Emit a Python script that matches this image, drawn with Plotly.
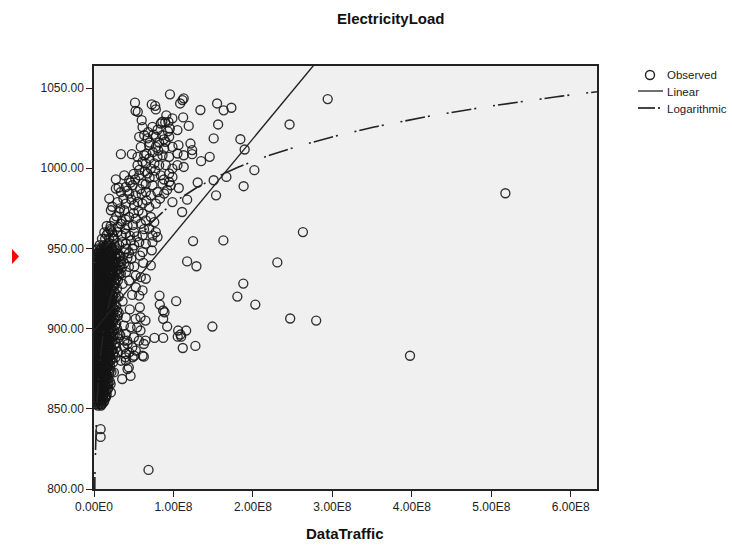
import numpy as np
import plotly.graph_objects as go

# ---------------------------------------------------------------
# Observed values: DataTraffic (in units of 1E8) and ElectricityLoad
# ---------------------------------------------------------------

# isolated high-traffic observations
sparse_traffic = [5.177, 3.977, 2.941, 2.796, 2.469, 2.629, 2.461, 2.307, 2.030, 1.879,
                  1.804, 1.628, 1.490, 1.896, 2.018, 1.883, 1.842]
sparse_load = [984.4, 883.1, 1043.1, 905.0, 906.3, 960.2, 1027.3, 941.3, 915.0, 928.1,
               920.0, 955.0, 901.3, 1011.7, 998.8, 988.8, 1018.1]

# upper band (high load, moderate traffic)
upper_traffic = [
    1.129, 1.113, 1.084, 0.956, 1.339, 1.549, 1.632, 1.729, 1.122, 1.192, 1.562, 1.506,
    1.214, 1.235, 1.235, 1.129, 1.129, 1.348, 1.456, 1.305, 1.506, 1.666, 1.536, 1.172,
    1.109, 1.067, 1.247,
    0.516, 0.523, 0.551, 0.727, 0.770, 0.778,
    0.987, 0.937, 0.896, 0.840, 0.611, 0.736, 1.050, 0.954,
    0.569, 0.632, 0.673, 0.778, 0.862, 0.946,
    0.589, 0.695, 0.778, 0.883, 0.987, 1.063,
    0.338, 0.476, 0.548, 0.632, 0.695, 0.799, 0.862, 0.946, 1.050,
    0.548, 0.652, 0.715, 0.820, 0.903, 0.987, 1.050,
    0.569, 0.673, 0.758, 0.840, 0.946, 0.987,
    0.275, 0.381, 0.443, 0.485, 0.611, 0.736, 0.862, 0.946, 0.966,
    0.275, 0.338, 0.401, 0.443, 0.526, 0.652, 0.715, 0.799, 0.883,
    0.987, 0.192, 0.296, 0.401, 0.506, 0.611, 0.695, 0.778,
    0.212, 0.318, 0.381, 0.443, 0.526, 0.611, 0.715, 0.758, 0.589, 0.652,
    0.255, 0.338, 0.422,
    0.212, 0.296, 0.401, 0.506, 0.611, 0.695, 0.778, 0.799, 0.736,
    0.255, 0.359, 0.464, 0.569, 0.652, 0.506, 0.736,
    0.149, 0.234, 0.318, 0.401,
    0.60, 0.68, 0.82, 0.90, 0.74, 0.64, 0.77, 0.88, 0.50, 0.58, 0.83, 0.92, 0.47, 0.56,
    0.66, 0.40, 0.49, 0.63, 0.30, 0.35, 0.54, 0.44, 0.27, 0.19, 0.16, 0.58, 0.62, 0.47,
    0.25, 0.30,
    0.20, 0.24, 0.28, 0.33, 0.37, 0.42, 0.46, 0.52, 0.57, 0.61, 0.66, 0.70, 0.75, 0.80,
    0.86, 0.91, 0.35, 0.39, 0.45, 0.50, 0.55, 0.60, 0.65, 0.70, 0.76, 0.81, 0.88, 0.93,
    0.23, 0.31,
]
upper_load = [
    1043.6, 1042.5, 1040.4, 1046.1, 1036.3, 1040.4, 1036.1, 1037.7, 1031.7, 1026.4, 1027.3, 1018.6,
    1015.4, 1011.3, 1008.8, 1008.1, 1000.8, 1004.4, 1007.1, 991.1, 992.5, 994.6, 983.1, 980.4,
    972.7, 987.7, 954.6,
    1040.9, 1035.8, 1035.2, 1039.8, 1038.9, 1036.7,
    1031.1, 1028.9, 1028.6, 1027.9, 1025.6, 1025.8, 1023.8, 1024.8,
    1019.6, 1020.6, 1018.6, 1019.6, 1020.6, 1019.6,
    1013.3, 1014.4, 1013.3, 1012.3, 1013.3, 1014.4,
    1008.8, 1008.8, 1007.1, 1008.1, 1006.1, 1007.1, 1008.1, 1007.1, 1009.2,
    1001.9, 1002.9, 999.8, 1001.9, 1001.9, 999.8, 1001.9,
    995.6, 996.7, 994.6, 995.6, 996.7, 994.6,
    993.1, 995.6, 992.5, 989.4, 990.4, 989.4, 990.4, 991.4, 989.4,
    987.3, 985.2, 988.3, 984.2, 983.1, 985.2, 983.1, 985.2, 984.2,
    978.9, 981.1, 978.9, 977.9, 976.9, 977.9, 975.8, 977.9,
    973.8, 972.7, 973.8, 969.6, 968.6, 971.7, 969.6, 966.4, 965.4, 967.5,
    967.5, 965.4, 964.4,
    961.3, 960.2, 959.2, 960.2, 958.1, 962.3, 960.2, 957.1, 958.1,
    956.1, 953.9, 955.0, 953.9, 952.9, 951.9, 953.9,
    950.8, 949.8, 951.9, 949.8,
    1030.0, 1022.5, 1016.0, 1016.5, 1010.0, 998.0, 998.5, 993.0, 996.5, 987.0, 981.0, 986.5, 980.5, 973.5,
    980.0, 968.0, 964.5, 962.0, 963.5, 958.0, 957.5, 947.0, 945.5, 953.5, 958.5, 945.5, 941.0, 943.5,
    940.5, 937.0,
    962.0, 958.0, 970.0, 975.0, 981.0, 986.0, 991.0, 993.0, 999.0, 1004.0, 1009.0, 1016.0, 1021.0, 1024.0,
    1029.0, 1033.0, 967.0, 962.0, 958.0, 972.0, 979.0, 984.0, 990.0, 994.0, 1003.0, 1011.0, 1018.0, 1023.0,
    976.0, 988.0,
]

# middle band (moderate load, moderate traffic)
middle_traffic = [
    1.172, 1.289, 0.824, 0.828, 0.870, 0.887, 1.034, 0.870, 0.921, 0.761, 0.871, 1.059, 1.160,
    1.054, 1.097, 1.117, 1.276, 1.088,
    0.686, 0.083, 0.083,
    0.577, 0.585, 0.648, 0.564, 0.648, 0.627, 0.397, 0.355, 0.250, 0.209, 0.438, 0.481, 0.523,
    0.543, 0.585, 0.460, 0.376, 0.627, 0.501, 0.418,
    0.715, 0.611, 0.727, 0.485, 0.401, 0.381, 0.506, 0.401, 0.443, 0.338, 0.359, 0.526, 0.589,
    0.652, 0.526, 0.611, 0.569,
    0.401, 0.381, 0.422, 0.443, 0.526, 0.506, 0.611, 0.381, 0.401, 0.401, 0.485, 0.422,
    0.087, 0.149, 0.212,
    0.33, 0.42, 0.36, 0.45, 0.40, 0.31, 0.48, 0.44, 0.34, 0.30, 0.46,
]
middle_load = [
    941.9, 938.9, 920.6, 915.0, 911.3, 910.2, 917.1, 906.1, 901.3, 894.2, 894.2, 898.8, 898.8,
    895.0, 895.0, 887.9, 889.2, 896.3,
    811.9, 837.3, 832.5,
    913.3, 907.1, 905.0, 892.5, 892.5, 882.5, 882.1, 868.6, 872.7, 865.4, 875.8, 888.3, 906.1,
    900.8, 898.8, 900.8, 901.9, 890.4, 894.6, 892.5,
    939.4, 947.7, 948.8, 949.8, 952.9, 940.8, 938.8, 935.2, 930.0, 934.2, 927.9, 933.1, 932.1,
    931.1, 925.8, 923.8, 920.6,
    896.7, 892.5, 890.4, 885.2, 886.3, 883.1, 883.1, 888.3, 884.2, 880.0, 882.1, 874.8,
    852.9, 857.1, 860.2,
    945.0, 944.0, 917.0, 912.0, 907.0, 910.0, 921.0, 938.5, 880.0, 885.5, 870.5,
]

# low-traffic column (even load levels): each level with the traffic values observed at it
column_levels = [852, 854, 856, 858, 860, 862, 864, 866, 868, 870, 872, 874, 876, 878,
                 880, 882, 884, 886, 888, 890, 892, 894, 896, 898, 900, 902, 904, 906,
                 908, 910, 912, 914, 916, 918, 920, 922, 924, 926, 928, 930, 932, 934,
                 936, 938, 940, 942, 944, 946, 948, 950, 952, 956, 960, 964]
column_traffic = [
    [0.05, 0.09],
    [0.01, 0.04, 0.08, 0.12],
    [0.03, 0.07, 0.11],
    [0.00, 0.03, 0.07, 0.11, 0.15],
    [0.01, 0.05, 0.09, 0.13],
    [0.02, 0.04, 0.08, 0.12, 0.17],
    [0.02, 0.06, 0.10, 0.15],
    [0.01, 0.03, 0.07, 0.11, 0.14, 0.18],
    [0.00, 0.04, 0.08, 0.12, 0.16],
    [0.00, 0.04, 0.08, 0.12, 0.16],
    [0.02, 0.06, 0.10, 0.14, 0.19],
    [0.01, 0.03, 0.07, 0.11, 0.15, 0.20],
    [0.01, 0.05, 0.09, 0.13, 0.17],
    [0.02, 0.05, 0.09, 0.13, 0.18],
    [0.03, 0.07, 0.11, 0.15, 0.21],
    [0.01, 0.06, 0.10, 0.14, 0.19, 0.27],
    [0.00, 0.04, 0.08, 0.12, 0.18, 0.24],
    [0.02, 0.05, 0.09, 0.13, 0.16, 0.22],
    [0.02, 0.06, 0.10, 0.14, 0.20, 0.28],
    [0.00, 0.04, 0.07, 0.11, 0.15, 0.19, 0.26],
    [0.01, 0.05, 0.09, 0.13, 0.17, 0.23],
    [0.02, 0.05, 0.09, 0.13, 0.17, 0.22, 0.30],
    [0.03, 0.07, 0.11, 0.15, 0.19, 0.26, 0.33],
    [0.01, 0.06, 0.10, 0.14, 0.18, 0.23],
    [0.00, 0.04, 0.08, 0.12, 0.16, 0.21, 0.29],
    [0.03, 0.07, 0.11, 0.15, 0.19, 0.27],
    [0.02, 0.06, 0.10, 0.14, 0.18, 0.24],
    [0.00, 0.04, 0.08, 0.12, 0.16, 0.20, 0.25],
    [0.01, 0.05, 0.09, 0.13, 0.17, 0.22, 0.30],
    [0.02, 0.06, 0.10, 0.14, 0.18, 0.24],
    [0.03, 0.07, 0.11, 0.15, 0.19, 0.26],
    [0.01, 0.05, 0.09, 0.13, 0.17, 0.22, 0.28],
    [0.00, 0.04, 0.08, 0.12, 0.16, 0.21],
    [0.03, 0.07, 0.11, 0.15, 0.19, 0.23],
    [0.02, 0.06, 0.10, 0.14, 0.18, 0.24, 0.31],
    [0.00, 0.04, 0.08, 0.12, 0.16, 0.20, 0.27],
    [0.01, 0.05, 0.09, 0.13, 0.17, 0.22],
    [0.02, 0.06, 0.10, 0.14, 0.18, 0.25],
    [0.03, 0.07, 0.11, 0.15, 0.20, 0.27],
    [0.01, 0.05, 0.09, 0.13, 0.17, 0.22, 0.30],
    [0.02, 0.06, 0.10, 0.14, 0.18, 0.25],
    [0.03, 0.07, 0.11, 0.15, 0.19, 0.23, 0.32],
    [0.04, 0.08, 0.12, 0.16, 0.21, 0.29],
    [0.02, 0.06, 0.10, 0.14, 0.18, 0.26, 0.35],
    [0.03, 0.07, 0.11, 0.15, 0.19, 0.24],
    [0.04, 0.08, 0.12, 0.16, 0.20, 0.27, 0.34],
    [0.05, 0.09, 0.13, 0.17, 0.22, 0.28],
    [0.03, 0.07, 0.11, 0.15, 0.21, 0.30],
    [0.06, 0.10, 0.14, 0.19, 0.25],
    [0.05, 0.09, 0.13, 0.17, 0.22, 0.28],
    [0.07, 0.12, 0.16, 0.20, 0.26],
    [0.10, 0.14, 0.19, 0.24],
    [0.13, 0.18, 0.23],
    [0.16, 0.21],
]

# low-traffic column (odd load levels)
column_levels_odd = [853, 855, 857, 859, 861, 863, 865, 867, 869, 871, 873, 875, 877, 879,
                     881, 883, 885, 887, 889, 891, 893, 895, 897, 899, 901, 903, 905, 907,
                     909, 911, 913, 915, 917, 919, 921, 923, 925, 927, 929, 931, 933, 935,
                     937, 939, 941, 943, 945, 947, 949]
column_traffic_odd = [
    [0.02, 0.06, 0.10],
    [0.00, 0.05, 0.09, 0.13],
    [0.02, 0.06, 0.10, 0.14],
    [0.01, 0.04, 0.08, 0.12, 0.16],
    [0.03, 0.07, 0.11, 0.15],
    [0.00, 0.05, 0.09, 0.13, 0.18],
    [0.02, 0.06, 0.10, 0.14, 0.17],
    [0.01, 0.05, 0.09, 0.13, 0.20],
    [0.02, 0.06, 0.10, 0.14, 0.18],
    [0.01, 0.05, 0.09, 0.13, 0.17],
    [0.03, 0.07, 0.11, 0.15, 0.22],
    [0.00, 0.04, 0.08, 0.12, 0.16, 0.19],
    [0.02, 0.06, 0.10, 0.14, 0.20],
    [0.01, 0.04, 0.08, 0.12, 0.16, 0.24],
    [0.02, 0.05, 0.09, 0.13, 0.17, 0.21],
    [0.00, 0.03, 0.07, 0.11, 0.15, 0.20],
    [0.01, 0.05, 0.09, 0.13, 0.17, 0.25],
    [0.03, 0.07, 0.11, 0.15, 0.18, 0.23],
    [0.01, 0.05, 0.08, 0.12, 0.16, 0.21],
    [0.02, 0.06, 0.10, 0.14, 0.18, 0.27],
    [0.00, 0.03, 0.07, 0.11, 0.15, 0.20],
    [0.01, 0.05, 0.09, 0.13, 0.17, 0.24],
    [0.02, 0.04, 0.08, 0.12, 0.16, 0.21, 0.31],
    [0.00, 0.03, 0.07, 0.11, 0.15, 0.19, 0.25],
    [0.02, 0.06, 0.10, 0.14, 0.17, 0.22],
    [0.01, 0.05, 0.09, 0.13, 0.16, 0.21, 0.28],
    [0.03, 0.07, 0.11, 0.15, 0.19, 0.23],
    [0.00, 0.04, 0.08, 0.12, 0.16, 0.20, 0.27],
    [0.02, 0.06, 0.10, 0.14, 0.18, 0.22],
    [0.01, 0.05, 0.09, 0.13, 0.17, 0.21, 0.29],
    [0.02, 0.06, 0.10, 0.14, 0.18, 0.24],
    [0.00, 0.03, 0.07, 0.11, 0.15, 0.20, 0.26],
    [0.02, 0.05, 0.09, 0.13, 0.17, 0.22],
    [0.01, 0.04, 0.08, 0.12, 0.16, 0.20, 0.28],
    [0.02, 0.06, 0.10, 0.14, 0.18, 0.23],
    [0.00, 0.03, 0.07, 0.11, 0.15, 0.19, 0.25],
    [0.01, 0.05, 0.09, 0.13, 0.17, 0.21, 0.29],
    [0.02, 0.06, 0.10, 0.14, 0.18, 0.24],
    [0.00, 0.04, 0.08, 0.12, 0.16, 0.20, 0.26],
    [0.02, 0.05, 0.09, 0.13, 0.17, 0.21, 0.28],
    [0.01, 0.04, 0.08, 0.12, 0.16, 0.20, 0.25],
    [0.03, 0.06, 0.10, 0.14, 0.18, 0.22, 0.31],
    [0.01, 0.05, 0.09, 0.13, 0.17, 0.23, 0.28],
    [0.02, 0.06, 0.10, 0.14, 0.18, 0.22, 0.32],
    [0.01, 0.05, 0.09, 0.13, 0.17, 0.25, 0.30],
    [0.03, 0.07, 0.11, 0.15, 0.19, 0.24],
    [0.04, 0.08, 0.12, 0.16, 0.20, 0.26, 0.32],
    [0.05, 0.09, 0.13, 0.18, 0.23, 0.29],
    [0.04, 0.08, 0.12, 0.16, 0.21, 0.27],
]

# fitted models: Linear  y = b0 + b1*x ;  Logarithmic  y = b0 + b1*ln(x)
LINEAR_B0, LINEAR_B1 = 898.6, 5.99e-7
LOG_B0, LOG_B1 = 284.5, 37.66

x_tick_vals = [0, 1e8, 2e8, 3e8, 4e8, 5e8, 6e8]
x_tick_text = ["0.00E0", "1.00E8", "2.00E8", "3.00E8", "4.00E8", "5.00E8", "6.00E8"]
y_tick_vals = [800, 850, 900, 950, 1000, 1050]
y_tick_text = ["800.00", "850.00", "900.00", "950.00", "1000.00", "1050.00"]
legend_labels = ["Observed", "Linear", "Logarithmic"]

X_MAX = 6.33e8
Y_MIN, Y_MAX = 800, 1063.75

# ---------------------------------------------------------------
col_x, col_y = [], []
for levels, rows in ((column_levels, column_traffic), (column_levels_odd, column_traffic_odd)):
    for level, xs in zip(levels, rows):
        col_x.extend(xs)
        col_y.extend([level] * len(xs))

traffic = np.array(sparse_traffic + upper_traffic + middle_traffic + col_x) * 1e8
load = np.array(sparse_load + upper_load + middle_load + col_y, dtype=float)

FONT = "Liberation Sans, Arial, sans-serif"
INK = "#222222"

# plot-area geometry in pixels (used to place the hand-drawn legend)
W, H = 732, 545
ML, MR, MT, MB = 94, 135, 66, 56
PW, PH = W - ML - MR, H - MT - MB


def px_x(px):
    return (px - ML) / PW


def px_y(py):
    return (H - MB - py) / PH


fig = go.Figure()

fig.add_trace(go.Scatter(
    x=traffic, y=load, mode="markers", name=legend_labels[0], showlegend=False,
    marker=dict(symbol="circle-open", size=9, color="rgba(20,20,20,0.88)",
                line=dict(width=1.35)),
))

lin_x = np.array([0.0, X_MAX])
fig.add_trace(go.Scatter(
    x=lin_x, y=LINEAR_B0 + LINEAR_B1 * lin_x, mode="lines", name=legend_labels[1],
    showlegend=False, line=dict(color=INK, width=1.4),
))

log_x = np.geomspace(1.5e5, X_MAX, 800)
fig.add_trace(go.Scatter(
    x=log_x, y=LOG_B0 + LOG_B1 * np.log(log_x), mode="lines", name=legend_labels[2],
    showlegend=False, line=dict(color=INK, width=1.6, dash="2px,3px,20px,3px,2px,17px"),
))

axis_common = dict(
    showline=True, linecolor=INK, linewidth=1.5, mirror=True,
    ticks="outside", ticklen=6, tickcolor=INK, tickwidth=1.2,
    showgrid=False, zeroline=False,
    tickfont=dict(family=FONT, size=12, color=INK),
)

fig.update_xaxes(range=[0, X_MAX], tickvals=x_tick_vals, ticktext=x_tick_text, **axis_common)
fig.update_yaxes(range=[Y_MIN, Y_MAX], tickvals=y_tick_vals, ticktext=y_tick_text, **axis_common)

# legend drawn as shapes + text
legend_rows = [75, 92, 109]
shapes = [
    dict(type="circle", xref="paper", yref="paper",
         x0=px_x(645.5), x1=px_x(654.5), y0=px_y(79.5), y1=px_y(70.5),
         line=dict(color=INK, width=1.4)),
    dict(type="line", xref="paper", yref="paper",
         x0=px_x(638), x1=px_x(663), y0=px_y(91), y1=px_y(91),
         line=dict(color=INK, width=1.3)),
    dict(type="line", xref="paper", yref="paper",
         x0=px_x(638), x1=px_x(663), y0=px_y(108), y1=px_y(108),
         line=dict(color="#444", width=2, dash="17px,3px,2px,3px")),
    dict(type="path", xref="paper", yref="paper",
         path=f"M {px_x(12)},{px_y(249)} L {px_x(19)},{px_y(256.5)} L {px_x(12)},{px_y(264)} Z",
         fillcolor="#ff0000", line=dict(width=0)),
]

annotations = [
    dict(text="<b>ElectricityLoad</b>", x=px_x(391), y=px_y(18), xref="paper", yref="paper",
         xanchor="center", yanchor="middle", showarrow=False,
         font=dict(family=FONT, size=15, color="#111")),
    dict(text="<b>DataTraffic</b>", x=px_x(345), y=px_y(533), xref="paper", yref="paper",
         xanchor="center", yanchor="middle", showarrow=False,
         font=dict(family=FONT, size=15, color="#111")),
]
for label, row in zip(legend_labels, legend_rows):
    annotations.append(dict(
        text=label, x=px_x(665), y=px_y(row), xref="paper", yref="paper",
        xanchor="left", yanchor="middle", showarrow=False,
        font=dict(family=FONT, size=11.5, color=INK)))

fig.update_layout(
    width=W, height=H,
    margin=dict(l=ML, r=MR, t=MT, b=MB),
    paper_bgcolor="white", plot_bgcolor="#f0f0f0",
    font=dict(family=FONT, size=12, color=INK),
    showlegend=False,
    shapes=shapes,
    annotations=annotations,
)

fig.write_html("out.html")
